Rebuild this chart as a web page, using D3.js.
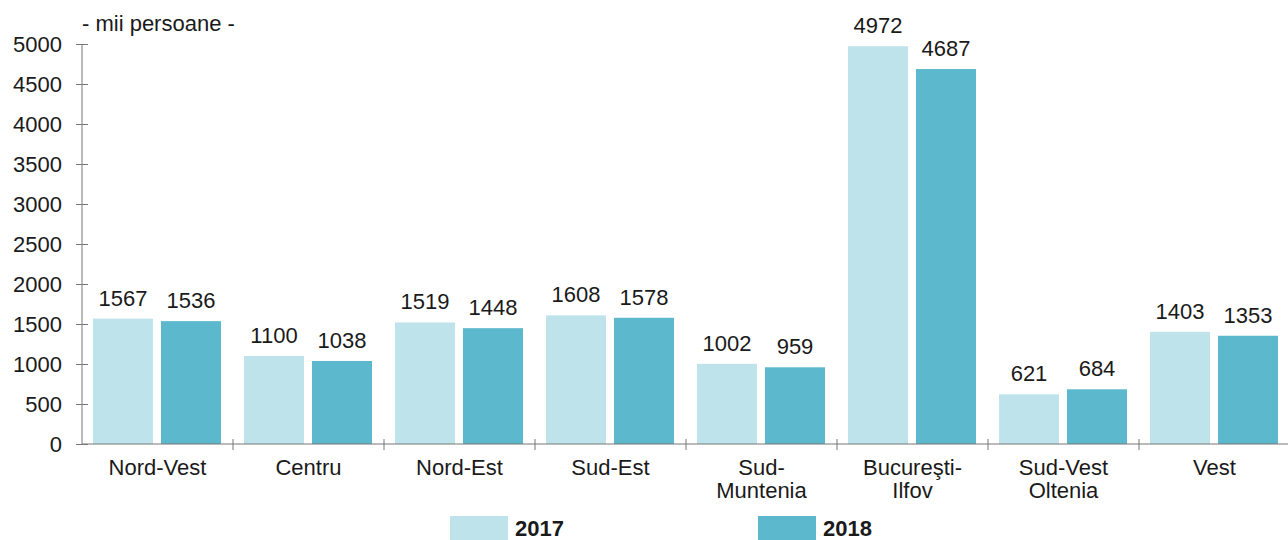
<!DOCTYPE html>
<html><head><meta charset="utf-8">
<script src="https://cdn.jsdelivr.net/npm/d3@7"></script>
<style>
body{margin:0;background:#fff;}
text{font-family:"Liberation Sans", Arial, sans-serif;fill:#1a1a1a;}
</style></head>
<body><svg id="c" width="1288" height="540"></svg>
<script>
const categories = ["Nord-Vest","Centru","Nord-Est","Sud-Est","Sud-\nMuntenia","Bucureşti-\nIlfov","Sud-Vest\nOltenia","Vest"];
const years = ["2017","2018"];
const values2017 = [1567,1100,1519,1608,1002,4972,621,1403];
const values2018 = [1536,1038,1448,1578,959,4687,684,1353];
const yTicks = [0,500,1000,1500,2000,2500,3000,3500,4000,4500,5000];
const unitLabel = "- mii persoane -";
const colors = {"2017":"#bee3eb","2018":"#5cb8cc"};

const svg = d3.select("#c");
const x0 = d3.scaleBand().domain(categories).range([82,1290]).padding(0);
const x1 = d3.scaleBand().domain(years).range([11,139]).paddingInner(8/68).paddingOuter(0);
const y = d3.scaleLinear().domain([0,5000]).range([444,44]);
const FS = 22;

// bars
const series = {"2017":values2017,"2018":values2018};
const g = svg.append("g");
categories.forEach((c,i)=>{
  years.forEach(yr=>{
    const v = series[yr][i];
    const bx = x0(c)+x1(yr);
    g.append("rect").attr("x",bx).attr("y",y(v)).attr("width",x1.bandwidth()).attr("height",y(0)-y(v)).attr("fill",colors[yr]);
    g.append("text").attr("x",bx+x1.bandwidth()/2).attr("y",y(v)-13).attr("text-anchor","middle").style("font-size",FS+"px").text(v);
  });
});

// y axis
const yAxis = d3.axisLeft(y).tickValues(yTicks).tickFormat(d3.format("d")).tickSize(6).tickPadding(14);
const ya = svg.append("g").attr("transform","translate(82,0)").call(yAxis);
ya.select(".domain").attr("stroke","#777").attr("d","M0,44V444");
ya.selectAll(".tick line").attr("stroke","#777").attr("x1",6).attr("x2",-6);
ya.selectAll(".tick text").style("font-size",FS+"px").attr("fill","#1a1a1a").attr("dy","0.36em");

// x axis line
svg.append("line").attr("x1",82).attr("x2",1288).attr("y1",444).attr("y2",444).attr("stroke","#777");
categories.forEach((c,i)=>{
  if(i>0){
    const tx = x0(c);
    svg.append("line").attr("x1",tx).attr("x2",tx).attr("y1",439).attr("y2",450).attr("stroke","#777");
  }
  const lines = c.split("\n");
  const t = svg.append("text").attr("text-anchor","middle").style("font-size",FS+"px");
  lines.forEach((l,j)=>{
    t.append("tspan").attr("x",x0(c)+x0.bandwidth()/2).attr("y",475+j*23).text(l);
  });
});

// unit label
svg.append("text").attr("x",82).attr("y",31).style("font-size",FS+"px").text(unitLabel);

// legend
const legendX = {"2017":450,"2018":758};
years.forEach(yr=>{
  svg.append("rect").attr("x",legendX[yr]).attr("y",516).attr("width",58).attr("height",24).attr("fill",colors[yr]);
  svg.append("text").attr("x",legendX[yr]+65).attr("y",536).style("font-size","22px").style("font-weight","bold").text(yr);
});
</script></body></html>
